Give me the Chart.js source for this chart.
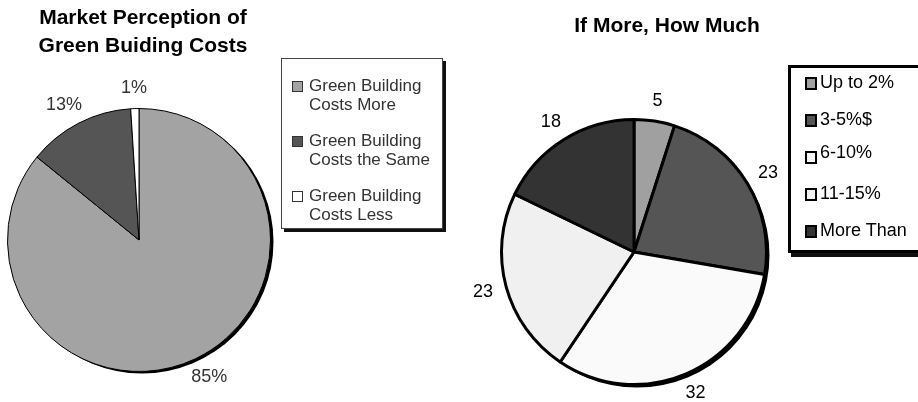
<!DOCTYPE html>
<html>
<head>
<meta charset="utf-8">
<script src="https://cdn.jsdelivr.net/npm/chart.js@4"></script>
<style>
  html, body { margin:0; padding:0; background:#fff; width:918px; height:402px; overflow:hidden; font-family:"Liberation Sans", Arial, sans-serif; }
  canvas { position:absolute; left:0; top:0; }
  .title { position:absolute; font-weight:bold; text-align:center; color:#000; white-space:nowrap; }
  .legend { position:absolute; background:#fff; }
  .item { position:absolute; display:flex; align-items:flex-start; white-space:nowrap; }
  .sw { box-sizing:border-box; flex:none; }
</style>
</head>
<body>
<canvas id="c1" width="460" height="402" style="left:0;top:0"></canvas>
<canvas id="c2" width="458" height="402" style="left:460px;top:0"></canvas>

<div id="t1" class="title" style="left:13px;top:3px;width:260px;font-size:21px;line-height:28px;"></div>
<div id="t2" class="title" style="left:547px;top:13px;width:240px;font-size:21px;line-height:24px;"></div>

<div id="leg1" class="legend" style="left:281px;top:58px;width:160px;height:169px;border:1px solid #444;box-shadow:3px 3px 0 #111;"></div>
<div id="leg2" class="legend" style="left:788px;top:65px;width:140px;height:182px;border:3px solid #000;box-shadow:3px 4px 0 #111;"></div>

<script>
// ---- Data ----
const leftTitle = ["Market Perception of", "Green Buiding Costs"];
const leftLabels = ["Green Building Costs More", "Green Building Costs the Same", "Green Building Costs Less"];
const leftLegendLines = [["Green Building", "Costs More"], ["Green Building", "Costs the Same"], ["Green Building", "Costs Less"]];
const leftValues = [85, 13, 1];
const leftColors = ["#a3a3a3", "#555555", "#ffffff"];

const rightTitle = "If More, How Much";
const rightLabels = ["Up to 2%", "3-5%$", "6-10%", "11-15%", "More Than"];
const rightValues = [5, 23, 32, 23, 18];
const rightColors = ["#a0a0a0", "#555555", "#fafafa", "#f0f0f0", "#333333"];

document.getElementById('t1').innerHTML = leftTitle.join('<br>');
document.getElementById('t2').textContent = rightTitle;

// ---- Plugins ----
const shadowPlugin = {
  id: 'pieShadow',
  beforeDatasetsDraw(chart, args, opts) {
    const arc = chart.getDatasetMeta(0).data[0];
    if (!arc) return;
    const ctx = chart.ctx;
    ctx.save();
    ctx.fillStyle = opts.color || '#000';
    ctx.beginPath();
    ctx.arc(arc.x + (opts.dx || 0), arc.y + (opts.dy || 0), arc.outerRadius, 0, Math.PI * 2);
    ctx.fill();
    ctx.restore();
  }
};

const labelPlugin = {
  id: 'outLabels',
  afterDatasetsDraw(chart, args, opts) {
    const meta = chart.getDatasetMeta(0);
    const data = chart.data.datasets[0].data;
    const ctx = chart.ctx;
    ctx.save();
    ctx.font = opts.font;
    ctx.fillStyle = opts.color;
    ctx.textAlign = 'center';
    ctx.textBaseline = 'middle';
    meta.data.forEach((arc, i) => {
      const txt = data[i] + (opts.suffix || '');
      const w = ctx.measureText(txt).width;
      const h = opts.height;
      const mid = (arc.startAngle + arc.endAngle) / 2;
      const dx = Math.cos(mid), dy = Math.sin(mid);
      const r = arc.outerRadius + opts.gap;
      const x = arc.x + dx * r + dx * w / 2;
      const y = arc.y + dy * r + dy * h / 2;
      ctx.fillText(txt, x, y);
    });
    ctx.restore();
  }
};

function makePie(id, labels, values, colors, border, padding, shadow, lab) {
  return new Chart(document.getElementById(id), {
    type: 'pie',
    data: { labels, datasets: [{ data: values, backgroundColor: colors, borderColor: '#000', borderWidth: border, borderAlign: 'center' }] },
    options: {
      responsive: false,
      animation: false,
      devicePixelRatio: 1,
      layout: { padding },
      plugins: {
        legend: { display: false },
        tooltip: { enabled: false },
        title: { display: false },
        pieShadow: shadow,
        outLabels: lab
      }
    },
    plugins: [shadowPlugin, labelPlugin]
  });
}

makePie('c1', leftLabels, leftValues, leftColors, 1,
  { left: 7, top: 108, right: 460 - 271, bottom: 402 - 372 },
  { dx: 3, dy: 2, color: '#000' },
  { font: '18px "Liberation Sans", Arial', color: '#333', gap: 14, height: 13, suffix: '%' });

makePie('c2', rightLabels, rightValues, rightColors, 3,
  { left: 500 - 460, top: 118, right: 458 - (768 - 460), bottom: 402 - 386 },
  { dx: 3, dy: 3, color: '#000' },
  { font: '18px "Liberation Sans", Arial', color: '#000', gap: 14, height: 13, suffix: '' });

// ---- Legends (HTML, built from the arrays) ----
const leg1 = document.getElementById('leg1');
leftLegendLines.forEach((lines, i) => {
  const it = document.createElement('div');
  it.className = 'item';
  it.style.left = '10px';
  it.style.top = (17 + i * 55) + 'px';
  it.innerHTML = `<div class="sw" style="width:11px;height:11px;margin-top:5px;margin-right:6px;background:${leftColors[i]};border:1px solid #333;"></div>` +
    `<div style="font-size:17px;line-height:19px;color:#333;">${lines.join('<br>')}</div>`;
  leg1.appendChild(it);
});

const leg2 = document.getElementById('leg2');
rightLabels.forEach((lab, i) => {
  const it = document.createElement('div');
  it.className = 'item';
  it.style.left = '14px';
  it.style.top = (3 + i * 37) + 'px';
  it.innerHTML = `<div class="sw" style="width:12px;height:13px;margin-top:6px;margin-right:3px;background:${rightColors[i]};border:2px solid #000;"></div>` +
    `<div style="font-size:18px;line-height:22px;color:#000;${i === 2 ? 'margin-top:-4px;' : ''}">${lab}</div>`;
  leg2.appendChild(it);
});
</script>
</body>
</html>
